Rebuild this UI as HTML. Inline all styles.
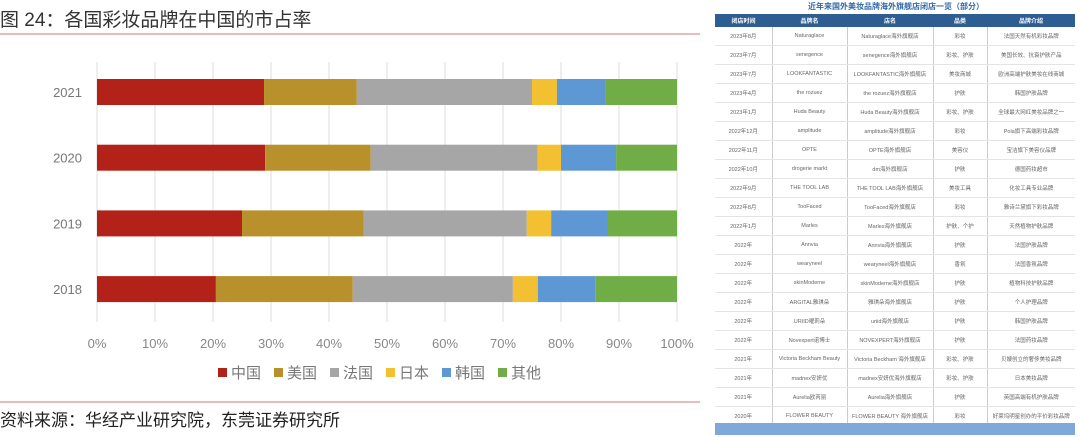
<!DOCTYPE html>
<html><head><meta charset="utf-8">
<style>
body{margin:0;width:1080px;height:437px;background:#fff;overflow:hidden;position:relative;font-family:"Liberation Sans","Noto Sans CJK SC",sans-serif}
#title{position:absolute;left:0;top:5px;font-size:19px;color:#333;white-space:nowrap}
#src{position:absolute;left:0;top:406px;font-size:17px;color:#222;white-space:nowrap}
#tbl{position:absolute;left:715px;top:0;width:362px;height:437px}
#tbl .cap{position:absolute;top:1px;left:0;width:362px;text-align:center;font-size:8px;color:#2f6aa8;font-weight:bold}
table{position:absolute;top:14px;left:0;width:360px;border-collapse:collapse;font-size:5.5px;color:#666;table-layout:fixed}
th{background:#2d5d91;color:#fff;height:13px;font-size:6px;font-weight:bold;padding:0}
td{height:18px;padding:0;text-align:center;vertical-align:middle;border-left:1px solid #ccc;border-bottom:1px solid #e4e4e4;white-space:nowrap;overflow:hidden}
td:first-child{border-left:none}
#foot{position:absolute;left:0;top:423px;width:360px;height:12px;background:#7ea9da}
</style></head><body>
<div id="title">图 24：各国彩妆品牌在中国的市占率</div>
<svg width="710" height="437" style="position:absolute;left:0;top:0">
<line x1="0" y1="34" x2="700" y2="34" stroke="#d9948f" stroke-width="1.2"/>
<line x1="0" y1="402" x2="700" y2="402" stroke="#d9948f" stroke-width="1.2"/>
<g id="grid"></g><g id="bars"></g><g id="ticks"></g><g id="legend"></g>
</svg>
<div id="src">资料来源：华经产业研究院，东莞证券研究所</div>

<div id="tbl">
<div class="cap">近年来国外美妆品牌海外旗舰店闭店一览（部分）</div>
<table id="t"><colgroup><col style="width:57px"><col style="width:75px"><col style="width:86px"><col style="width:54px"><col style="width:88px"></colgroup>
<tr><th>闭店时间</th><th>品牌名</th><th>店名</th><th>品类</th><th>品牌介绍</th></tr>
</table>
<div id="foot"></div>
</div>

<script>
const years=["2021","2020","2019","2018"];
const series=["中国","美国","法国","日本","韩国","其他"];
const colors=["#b22218","#b8902c","#a6a6a6","#f3c032","#5e98d4","#70ad47"];
const china=[28.8,29.0,25.0,20.5];
const usa=[16.0,18.2,21.0,23.6];
const france=[30.2,28.8,28.1,27.6];
const japan=[4.3,4.0,4.2,4.3];
const korea=[8.3,9.5,9.8,9.9];
const other=[12.4,10.5,11.9,14.1];
const xTicks=["0%","10%","20%","30%","40%","50%","60%","70%","80%","90%","100%"];
const NS="http://www.w3.org/2000/svg";
const X0=97,X1=677;
const xs=v=>X0+(X1-X0)*v/100;
const yc=i=>92+i*65.7;
function mk(t,a,p){const e=document.createElementNS(NS,t);for(const k in a)e.setAttribute(k,a[k]);p.appendChild(e);return e;}
const grid=document.getElementById('grid'),bars=document.getElementById('bars'),ticks=document.getElementById('ticks'),leg=document.getElementById('legend');
xTicks.forEach((t,i)=>{
 const x=xs(i*10);
 const l=mk('line',{x1:x,y1:62,x2:x,y2:322,stroke:'#dcdcdc','stroke-width':1},grid);
 
 
 const tx=mk('text',{x:x,y:348,'text-anchor':'middle','font-size':13,fill:'#888'},ticks);
 tx.textContent=t;
 
 
});
const data=[china,usa,france,japan,korea,other];
years.forEach((y,i)=>{
 const ty=mk('text',{x:82,y:yc(i)+5,'text-anchor':'end','font-size':13,fill:'#777'},ticks);
 ty.textContent=y;
 
 
 let acc=0;
 data.forEach((s,j)=>{
  const v=(j===5)?100-acc:s[i];
  const r=mk('rect',{x:xs(acc),y:yc(i)-13,width:xs(acc+v)-xs(acc),height:26,fill:colors[j]},bars);
  
  
  acc+=v;
 });
});
const lx=[218,274,330,386,442,498];
series.forEach((s,j)=>{
 const r=mk('rect',{x:lx[j],y:368,width:9,height:9,fill:colors[j]},leg);
 
 
 const t=mk('text',{x:lx[j]+13,y:378,'font-size':15,fill:'#777'},leg);
 t.textContent=s;
 
 
});
const rows=[
["2023年8月","Naturaglace","Naturaglace海外旗舰店","彩妆","法国天然有机彩妆品牌"],
["2023年7月","senegence","senegence海外旗舰店","彩妆、护肤","美国长效、抗衰护肤产品"],
["2023年7月","LOOKFANTASTIC","LOOKFANTASTIC海外旗舰店","美妆商城","欧洲高端护肤美妆在线商城"],
["2023年4月","the rozuez","the rozuez海外旗舰店","护肤","韩国护肤品牌"],
["2023年1月","Huda Beauty","Huda Beauty海外旗舰店","彩妆、护肤","全球最大网红美妆品牌之一"],
["2022年12月","amplitude","amplitude海外旗舰店","彩妆","Pola旗下高端彩妆品牌"],
["2022年11月","OPTE","OPTE海外旗舰店","美容仪","宝洁旗下美容仪品牌"],
["2022年10月","drogerie markt","dm海外旗舰店","护肤","德国药妆超市"],
["2022年9月","THE TOOL LAB","THE TOOL LAB海外旗舰店","美妆工具","化妆工具专业品牌"],
["2022年8月","TooFaced","TooFaced海外旗舰店","彩妆","雅诗兰黛旗下彩妆品牌"],
["2022年1月","Marles","Marles海外旗舰店","护肤、个护","天然植物护肤品牌"],
["2022年","Annvia","Annvia海外旗舰店","护肤","法国护肤品牌"],
["2022年","wearyneel","wearyneel海外旗舰店","香氛","法国香氛品牌"],
["2022年","skinModerne","skinModerne海外旗舰店","护肤","植物科技护肤品牌"],
["2022年","ARGITAL雅琪朵","雅琪朵海外旗舰店","护肤","个人护理品牌"],
["2022年","URIID曜莉朵","uriid海外旗舰店","护肤","韩国护肤品牌"],
["2022年","Novexpert诺博士","NOVEXPERT海外旗舰店","护肤","法国药妆品牌"],
["2021年","Victoria Beckham Beauty","Victoria Beckham 海外旗舰店","彩妆、护肤","贝嫂创立的奢侈美妆品牌"],
["2021年","madnex安妍优","madnex安妍优海外旗舰店","彩妆、护肤","日本美妆品牌"],
["2021年","Aurelia欧芮丽","Aurelia海外旗舰店","护肤","英国高端有机护肤品牌"],
["2020年","FLOWER BEAUTY","FLOWER BEAUTY 海外旗舰店","彩妆","好莱坞明星创办的平价彩妆品牌"]];
const t=document.getElementById('t');
rows.forEach(r=>{
 const tr=document.createElement('tr');
 
 
 r.forEach(c=>{const td=document.createElement('td');td.textContent=c;tr.appendChild(td);});
 t.appendChild(tr);
});
</script>
</body></html>
